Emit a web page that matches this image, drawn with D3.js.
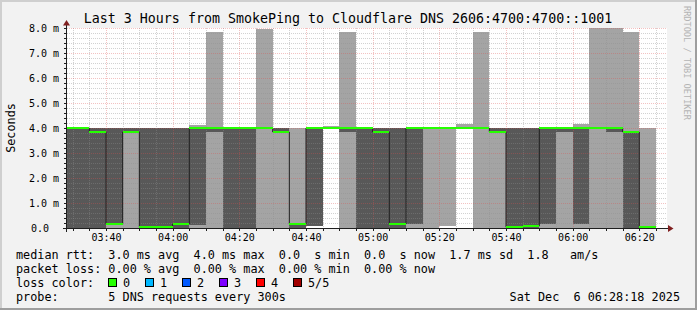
<!DOCTYPE html>
<html>
<head>
<meta charset="utf-8">
<script src="https://cdn.jsdelivr.net/npm/d3@7"></script>
<style>
body { margin: 0; background: #fff; }
text { font-family: "DejaVu Sans Mono", monospace; white-space: pre; }
</style>
</head>
<body>
<div class="chart"></div>
<script>
// 5 minute bins (end time), sorted pings in ms
const binEnds = ["03:30","03:35","03:40","03:45","03:50","03:55","04:00","04:05","04:10","04:15","04:20",
  "04:25","04:30","04:35","04:40","04:45","04:50","04:55","05:00","05:05","05:10",
  "05:15","05:20","05:25","05:30","05:35","05:40","05:45","05:50","05:55","06:00",
  "06:05","06:10","06:15","06:20","06:25"];
const ping1  = [0, 0,0,0,0,0,0,0,0,0,0, 0,0,0,0,0.09,4.0,0,0,0,0, 0,0,0.09,4.0,0,0,0,0,0,0, 0,0,0,0,0];
const ping2  = [0, 0,0,0.16,3.84,0,0,0,0.13,3.84,0, 0,4.0,3.84,0,0.09,4.0,3.84,0,0,0, 0.16,4.0,4.0,4.0,4.0,3.84,0,0,0.16,3.84, 0.16,4.0,3.84,0,0];
const median = [4.0, 4.0,3.84,0.16,3.84,0.03,0.03,0.16,4.0,4.0,4.0, 4.0,4.0,3.84,0.16,4.0,4.0,4.0,4.0,3.84,0.16, 4.0,4.0,4.0,4.0,4.0,3.84,0.03,0.08,4.0,4.0, 4.0,4.0,4.0,3.84,0.03];
const ping4  = [4.0, 4.0,4.0,4.0,4.0,4.0,4.0,4.0,4.0,4.0,4.0, 4.0,4.0,4.0,0.16,4.0,4.0,4.0,4.0,4.0,4.0, 4.0,4.0,4.0,4.0,4.0,4.0,4.0,4.0,4.0,4.0, 4.0,4.0,4.0,3.84,0.03];
const ping5  = [4.0, 4.0,4.0,4.0,4.0,4.0,4.0,4.0,4.12,7.84,4.0, 4.0,7.96,4.0,4.0,4.0,4.08,7.84,4.0,4.0,4.0, 4.0,4.0,4.0,4.16,7.84,4.0,4.0,4.0,4.0,4.0, 4.16,8.0,8.0,7.84,4.0];

const xTicks = ["03:40","04:00","04:20","04:40","05:00","05:20","05:40","06:00","06:20"];
const yTicks = [0,1,2,3,4,5,6,7,8];

const lossLabels = ["0","1","2","3","4","5/5"];
const lossColors = ["#26ff00","#00b8ff","#0059ff","#7e00ff","#ff0000","#a10000"];

const statRows = [
  "median rtt:  3.0 ms avg  4.0 ms max  0.0  s min  0.0  s now  1.7 ms sd  1.8   am/s",
  "packet loss: 0.00 % avg  0.00 % max  0.00 % min  0.00 % now",
  "loss color:",
  "probe:       5 DNS requests every 300s"
];
const stamp = "Sat Dec  6 06:28:18 2025";
const title = "Last 3 Hours from SmokePing to Cloudflare DNS 2606:4700:4700::1001";

const W = 697, H = 310;
const svg = d3.select(".chart").append("svg")
  .attr("width", W).attr("height", H);

// background + 3d frame
svg.append("rect").attr("width", W).attr("height", H).attr("fill", "#f2f2f2");
svg.append("path").attr("d", `M0,${H} V0 H${W}`).attr("fill", "none")
  .attr("stroke", "#cfcfcf").attr("stroke-width", 4);
svg.append("path").attr("d", `M0,${H} H${W} V0`).attr("fill", "none")
  .attr("stroke", "#9e9e9e").attr("stroke-width", 4);

const parseT = d3.timeParse("%H:%M:%S");
const t0 = parseT("03:28:18"), t1 = parseT("06:28:18");

const x = d3.scaleTime().domain([t0, t1]).range([67, 667]);
const y = d3.scaleLinear().domain([0, 8]).range([228, 28]);

svg.append("rect").attr("x", 67).attr("y", 28).attr("width", 600).attr("height", 200)
  .attr("fill", "#fff");

const bins = binEnds.map((e, i) => {
  const end = parseT(e + ":00");
  const st = new Date(Math.max(+t0, +end - 300000));
  return {st, end, p1: ping1[i], p2: ping2[i], med: median[i], p4: ping4[i], p5: ping5[i]};
});

const plot = svg.append("g").attr("shape-rendering", "crispEdges");

// outer smoke (p1..p5)
plot.selectAll(".smoke1").data(bins).enter().append("rect")
  .attr("x", d => x(d.st))
  .attr("width", d => x(d.end) - x(d.st))
  .attr("y", d => y(d.p5))
  .attr("height", d => y(d.p1) - y(d.p5))
  .attr("fill", "#a4a4a4");

// inner smoke (p2..p4)
plot.selectAll(".smoke2").data(bins).enter().append("rect")
  .attr("x", d => x(d.st))
  .attr("width", d => x(d.end) - x(d.st))
  .attr("y", d => y(d.p4))
  .attr("height", d => y(d.p2) - y(d.p4))
  .attr("fill", "#585858");

// grid
const grid = svg.append("g");
const minorY = d3.range(0, 8.01, 0.2).filter(v => Math.abs(v - Math.round(v)) > 0.01);
grid.selectAll(".gy").data(minorY).enter().append("line")
  .attr("x1", 67).attr("x2", 667)
  .attr("y1", d => Math.round(y(d)) + 0.5).attr("y2", d => Math.round(y(d)) + 0.5)
  .attr("stroke", "#8f8f8f").attr("stroke-opacity", 0.4).attr("stroke-dasharray", "1,1");
const minorX = d3.timeMinute.every(5).range(t0, t1)
  .filter(t => t.getMinutes() % 20 !== 0);
grid.selectAll(".gx").data(minorX).enter().append("line")
  .attr("y1", 28).attr("y2", 228)
  .attr("x1", d => Math.round(x(d)) + 0.5).attr("x2", d => Math.round(x(d)) + 0.5)
  .attr("stroke", "#8f8f8f").attr("stroke-opacity", 0.4).attr("stroke-dasharray", "1,1");
grid.selectAll(".my").data(yTicks.slice(1)).enter().append("line")
  .attr("x1", 67).attr("x2", 667)
  .attr("y1", d => Math.round(y(d)) + 0.5).attr("y2", d => Math.round(y(d)) + 0.5)
  .attr("stroke", "#de5050").attr("stroke-opacity", 0.35).attr("stroke-dasharray", "1,1");
const xTickTimes = xTicks.map(s => parseT(s + ":00"));
grid.selectAll(".mx").data(xTickTimes).enter().append("line")
  .attr("y1", 28).attr("y2", 228)
  .attr("x1", d => Math.round(x(d)) + 0.5).attr("x2", d => Math.round(x(d)) + 0.5)
  .attr("stroke", "#de5050").attr("stroke-opacity", 0.35).attr("stroke-dasharray", "1,1");

// median step line
const pts = [];
bins.forEach(d => { pts.push([x(d.st), y(d.med)]); pts.push([x(d.end), y(d.med)]); });
svg.append("path")
  .attr("d", d3.line()(pts))
  .attr("fill", "none")
  .attr("stroke", "#202020")
  .attr("stroke-width", 1);

// loss coloured median band (on top)
const band = svg.append("g").attr("shape-rendering", "crispEdges");
band.selectAll("rect").data(bins).enter().append("rect")
  .attr("x", d => x(d.st))
  .attr("width", d => x(d.end) - x(d.st))
  .attr("y", d => Math.round(y(d.med)) - 1)
  .attr("height", 2)
  .attr("fill", lossColors[0]);

// small tick marks
grid.selectAll(".tx").data(d3.timeMinute.every(5).range(t0, t1)).enter().append("line")
  .attr("y1", 229).attr("y2", 231)
  .attr("x1", d => Math.round(x(d)) + 0.5).attr("x2", d => Math.round(x(d)) + 0.5)
  .attr("stroke", "#1f1f1f").attr("stroke-width", 1);
grid.selectAll(".ty").data(d3.range(0, 8.01, 0.2)).enter().append("line")
  .attr("x1", 64).attr("x2", 66)
  .attr("y1", d => Math.round(y(d)) + 0.5).attr("y2", d => Math.round(y(d)) + 0.5)
  .attr("stroke", "#1f1f1f").attr("stroke-width", 1);

// axes lines + arrows
svg.append("line").attr("x1", 63).attr("x2", 669).attr("y1", 228.5).attr("y2", 228.5)
  .attr("stroke", "#1f1f1f");
svg.append("line").attr("x1", 66.5).attr("x2", 66.5).attr("y1", 232).attr("y2", 25)
  .attr("stroke", "#1f1f1f");
svg.append("path").attr("d", "M668,225 L668,232 L673.5,228.5 Z").attr("fill", "#801f1f");
svg.append("path").attr("d", "M63,25.5 L70,25.5 L66.5,20 Z").attr("fill", "#801f1f");

// axis labels via d3 axes
const xAxis = d3.axisBottom(x).tickValues(xTickTimes)
  .tickFormat(d3.timeFormat("%H:%M")).tickSize(0).tickPadding(0);
const gx = svg.append("g").attr("transform", "translate(0,232)").call(xAxis);
gx.select(".domain").remove();
gx.selectAll("text").attr("dy", "0.75em").attr("y", 1)
  .style("font-family", "DejaVu Sans Mono").style("font-size", "10px").attr("fill", "#000");

const yAxis = d3.axisLeft(y).tickValues(yTicks)
  .tickFormat(d => d === 0 ? "0.0" : d.toFixed(1) + " m").tickSize(0).tickPadding(0);
const gy = svg.append("g").attr("transform", "translate(59,0)").call(yAxis);
gy.select(".domain").remove();
gy.selectAll("text")
  .attr("dx", d => d === 0 ? -10 : 0)
  .style("font-family", "DejaVu Sans Mono").style("font-size", "10px").attr("fill", "#000");

// title and side labels
svg.append("text").attr("x", 348).attr("y", 23).attr("text-anchor", "middle")
  .style("font-size", "13.3px").text(title);
svg.append("text").attr("transform", "translate(14.5,128) rotate(-90)")
  .attr("text-anchor", "middle").style("font-size", "11.8px").text("Seconds");
svg.append("text").attr("transform", "translate(684,6) rotate(90)")
  .attr("text-anchor", "start").attr("fill", "#b4b4b4").style("font-size", "8.6px")
  .text("RRDTOOL / TOBI OETIKER");

// legend / stats
svg.selectAll(".stat").data(statRows).enter().append("text")
  .attr("x", 16).attr("y", (d, i) => 259 + 14 * i)
  .style("font-size", "11.8px").text(d => d);
svg.append("text").attr("x", 680).attr("y", 301).attr("text-anchor", "end")
  .style("font-size", "11.8px").text(stamp);

const lg = svg.selectAll(".lg").data(lossLabels).enter().append("g")
  .attr("transform", (d, i) => `translate(${108 + 37 * i},0)`);
lg.append("rect").attr("x", 0.5).attr("y", 278.5).attr("width", 8).attr("height", 8)
  .attr("fill", (d, i) => lossColors[i]).attr("stroke", "#000");
lg.append("text").attr("x", 15).attr("y", 287).style("font-size", "11.8px").text(d => d);
</script>
</body>
</html>
